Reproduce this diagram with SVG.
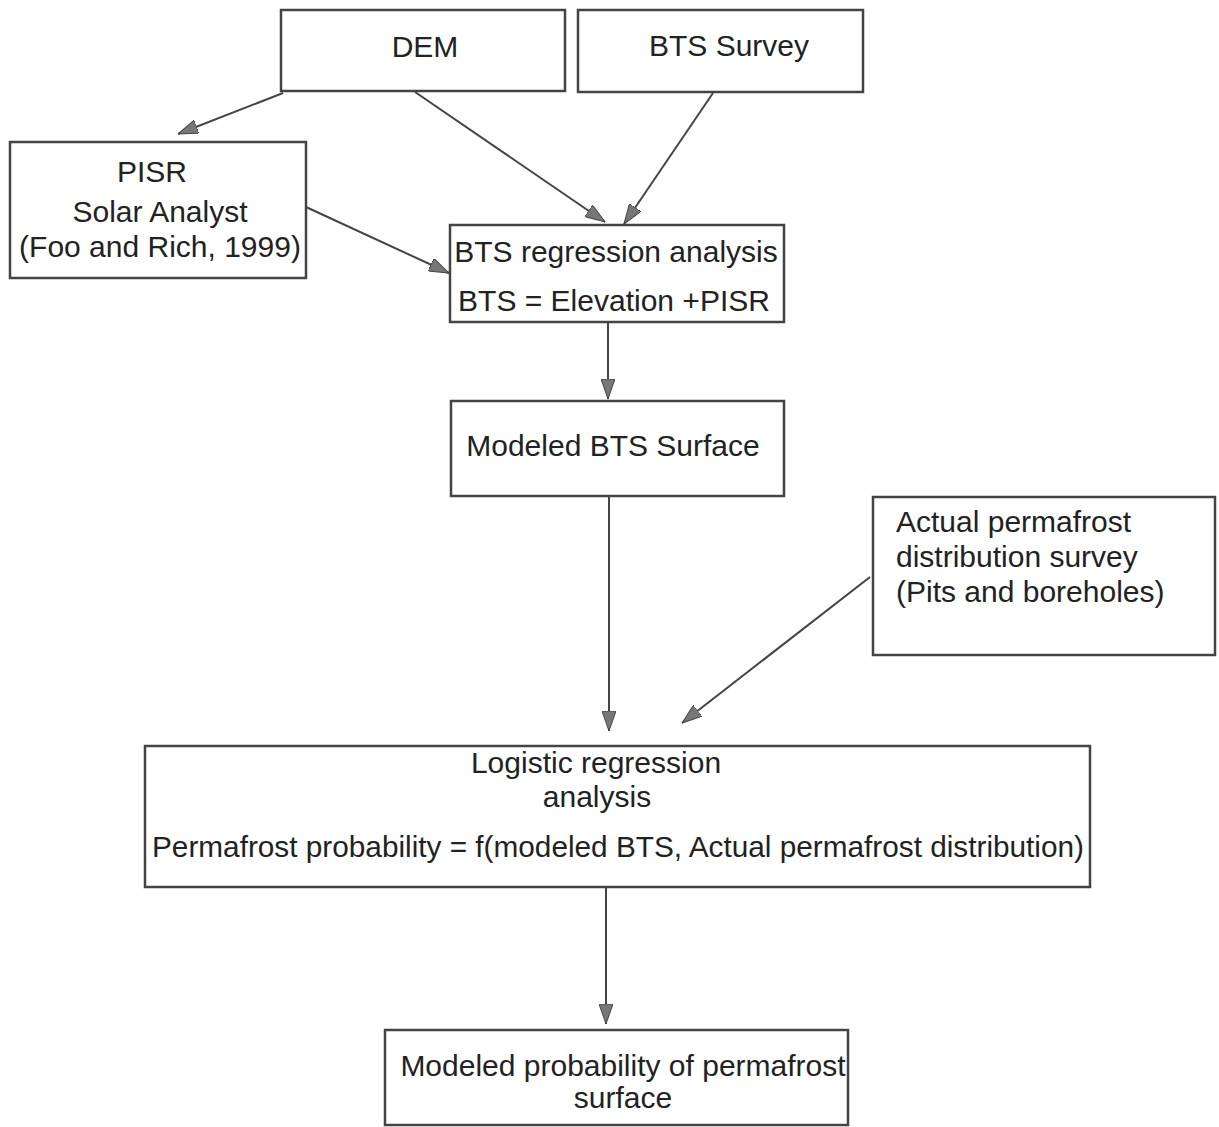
<svg xmlns="http://www.w3.org/2000/svg" width="1219" height="1127" viewBox="0 0 1219 1127">
<style>
.box{fill:#fff;stroke:#444;stroke-width:2.5}
.t{font-family:"Liberation Sans",Arial,sans-serif;font-size:30px;fill:#222}
.c{text-anchor:middle}
.edge{stroke:#444;stroke-width:2;fill:none;marker-end:url(#ah)}
</style>
<defs>
<marker id="ah" viewBox="0 0 20 14" refX="20" refY="7" markerWidth="20" markerHeight="14" markerUnits="userSpaceOnUse" orient="auto">
<path d="M0,0 L20,7 L0,14 Z" fill="#777" stroke="#444" stroke-width="1"/>
</marker>
</defs>
<rect width="1219" height="1127" fill="#fff"/>
<g id="connectors">
<line class="edge" x1="283" y1="93" x2="178" y2="134"/>
<line class="edge" x1="415" y1="92" x2="605" y2="222"/>
<line class="edge" x1="713" y1="93" x2="624" y2="224"/>
<line class="edge" x1="306" y1="207" x2="449" y2="273"/>
<line class="edge" x1="608" y1="322" x2="608" y2="399"/>
<line class="edge" x1="609" y1="497" x2="609" y2="731"/>
<line class="edge" x1="870" y1="577" x2="682" y2="723"/>
<line class="edge" x1="606" y1="887" x2="606" y2="1024"/>
</g>
<g id="dem">
<rect class="box" x="281" y="10" width="284" height="81"/>
<text class="t c" x="425" y="57">DEM</text>
</g>
<g id="bts-survey">
<rect class="box" x="578" y="10" width="285" height="82"/>
<text class="t c" x="729" y="56">BTS Survey</text>
</g>
<g id="pisr">
<rect class="box" x="10" y="142" width="296" height="136"/>
<text class="t c" x="152" y="182">PISR</text>
<text class="t c" x="160" y="222">Solar Analyst</text>
<text class="t c" x="160" y="257">(Foo and Rich, 1999)</text>
</g>
<g id="bts-regression">
<rect class="box" x="450" y="225" width="334" height="97"/>
<text class="t c" x="616" y="262">BTS regression analysis</text>
<text class="t c" x="614" y="311">BTS = Elevation +PISR</text>
</g>
<g id="modeled-bts">
<rect class="box" x="451" y="401" width="333" height="95"/>
<text class="t c" x="613" y="456">Modeled BTS Surface</text>
</g>
<g id="actual-permafrost">
<rect class="box" x="873" y="497" width="342" height="158"/>
<text class="t" x="896" y="532">Actual permafrost</text>
<text class="t" x="896" y="567">distribution survey</text>
<text class="t" x="896" y="602">(Pits and boreholes)</text>
</g>
<g id="logistic-regression">
<rect class="box" x="145" y="746" width="945" height="141"/>
<text class="t c" x="596" y="773">Logistic regression</text>
<text class="t c" x="597" y="807">analysis</text>
<text class="t c" x="618" y="857" textLength="932" lengthAdjust="spacingAndGlyphs">Permafrost probability = f(modeled BTS, Actual permafrost distribution)</text>
</g>
<g id="modeled-probability">
<rect class="box" x="385" y="1030" width="463" height="95"/>
<text class="t c" x="623" y="1076">Modeled probability of permafrost</text>
<text class="t c" x="623" y="1108">surface</text>
</g>
</svg>
